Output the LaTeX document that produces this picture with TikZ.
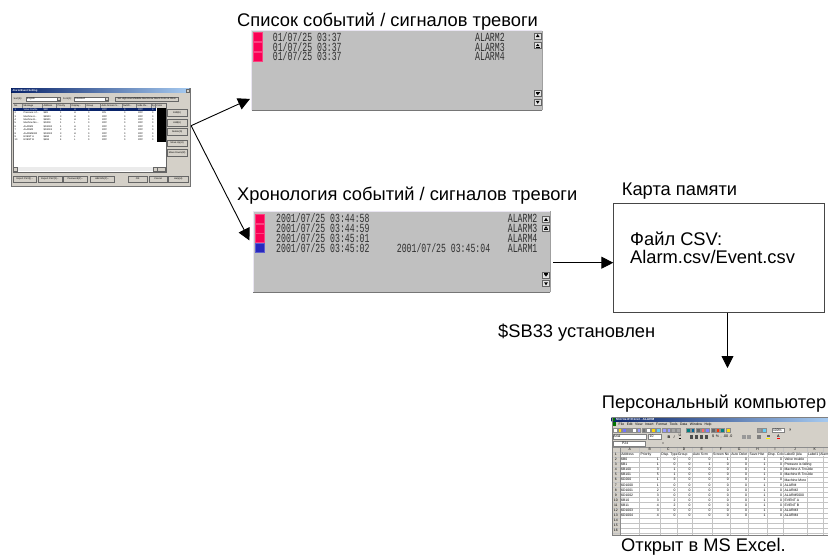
\documentclass[tikz,border=0pt]{standalone}
\usepackage{fontspec}
\setmainfont{Liberation Sans}
\newfontfamily\lcdfont[FakeStretch=0.66]{Liberation Mono}
\usetikzlibrary{arrows.meta,calc}
\definecolor{panelgray}{RGB}{192,192,192}
\definecolor{panellight}{RGB}{234,230,242}
\definecolor{paneldark}{RGB}{118,118,118}
\definecolor{lcdtext}{RGB}{48,48,48}
\definecolor{alarmred}{RGB}{250,0,85}
\definecolor{alarmblue}{RGB}{40,40,190}
\definecolor{btnface}{RGB}{228,228,228}
\definecolor{btnedge}{RGB}{100,100,100}
\definecolor{winface}{RGB}{212,208,200}
\definecolor{winnavy}{RGB}{10,36,106}
\definecolor{winlight}{RGB}{166,202,240}
\definecolor{gridgray}{RGB}{196,196,196}
\definecolor{boxedge}{RGB}{70,70,70}
\newcommand\mydots{.\kern0pt.\kern0pt.}

\newcommand\scrbtn[4]{%
  \node[sbtn] (#1) at (#2,#3) {};
  \ifcase#4\relax
    \fill ($(#1.center)+(0,-1.7)$) -- ($(#1.center)+(-1.9,1.3)$) -- ($(#1.center)+(1.9,1.3)$) -- cycle;
  \or
    \fill ($(#1.center)+(0,-1.6)$) -- ($(#1.center)+(-1.9,0.8)$) -- ($(#1.center)+(1.9,0.8)$) -- cycle;
    \draw[line width=0.5pt] ($(#1.center)+(-1.9,1.8)$) -- ($(#1.center)+(1.9,1.8)$);
  \or
    \draw[line width=0.5pt] ($(#1.center)+(-1.9,-1.8)$) -- ($(#1.center)+(1.9,-1.8)$);
    \fill ($(#1.center)+(0,1.6)$) -- ($(#1.center)+(-1.9,-0.8)$) -- ($(#1.center)+(1.9,-0.8)$) -- cycle;
  \or
    \fill ($(#1.center)+(0,1.7)$) -- ($(#1.center)+(-1.9,-1.3)$) -- ($(#1.center)+(1.9,-1.3)$) -- cycle;
  \fi}

\begin{document}
\begin{tikzpicture}[x=1pt,y=-1pt,
  ttl/.style={font=\fontsize{18.3}{21}\selectfont,anchor=base west,inner sep=0pt},
  lcd/.style={font=\lcdfont\fontsize{12.4}{12}\selectfont,text=lcdtext,anchor=base west,inner sep=0pt,text height=8.2pt,text depth=0.3pt},
  panel/.style={fill=panelgray,draw=none,anchor=north west,inner sep=0pt},
  conn/.style={line width=0.9pt,-{Triangle[length=12pt,width=12pt]}},
  sq/.style={minimum size=9pt,inner sep=0pt,anchor=north west,fill=#1,draw=#1!75!white,line width=0.3pt},
  sbtn/.style={draw=btnedge,fill=btnface,minimum width=7pt,minimum height=6pt,inner sep=0pt,anchor=north west,line width=0.4pt},
  dt/.style={font=\fontsize{2.4}{2.8}\selectfont,anchor=west,inner sep=0pt},
  dbtn/.style={draw=black!60,fill=winface,inner sep=0pt,anchor=north west,line width=0.3pt,font=\fontsize{2.4}{2.8}\selectfont},
  xt/.style={font=\fontsize{3.4}{3.8}\selectfont,anchor=west,inner sep=0pt},
  xr/.style={font=\fontsize{3.4}{3.8}\selectfont,anchor=east,inner sep=0pt},
  xc/.style={font=\fontsize{3.4}{3.8}\selectfont,anchor=center,inner sep=0pt}]
\useasboundingbox[fill=white] (0,0) rectangle (828,555);

%%%%%%%%%%%%%%%% DIALOG %%%%%%%%%%%%%%%%
\node[anchor=north west,minimum width=179pt,minimum height=98pt,inner sep=0pt,fill=winface,draw=black!55,line width=0.4pt] (dlg) at (11,88) {};
\fill[left color=winnavy,right color=winlight] (11.3,88.3) rectangle (189.7,92.7);
\node[dt,text=white,font=\bfseries\fontsize{2.6}{3}\selectfont] (dlgtitle) at (12.5,90.5) {Alarm/Event Setting};
\node[dbtn,minimum width=3pt,minimum height=3.2pt] (dlgclose) at (186.2,88.9) {};
% sort row
\node[dt] (dsort) at (13.5,98.7) {Sort(S):};
\node[anchor=north west,minimum width=34pt,minimum height=4pt,inner sep=0pt,fill=white,draw=black!60,line width=0.3pt] (dcombo1) at (26,96.7) {};
\node[dt] (dcombo1t) at (27,98.7) {English};
\node[dbtn,minimum width=3pt,minimum height=3.4pt] (dcombo1b) at (56.7,97) {};
\node[dt] (dfont) at (63,98.7) {Font(F):};
\node[anchor=north west,minimum width=34pt,minimum height=4pt,inner sep=0pt,fill=white,draw=black!60,line width=0.3pt] (dcombo2) at (74,96.7) {};
\node[dt] (dcombo2t) at (75,98.7) {Standard};
\node[dbtn,minimum width=3pt,minimum height=3.4pt] (dcombo2b) at (104.7,97) {};
\node[dbtn,minimum width=63pt,minimum height=4pt] (dlong) at (115,96.7) {Set High Alarm/Middle Alarm/Low Alarm Color at Once};
% list
\node[anchor=north west,minimum width=153.3pt,minimum height=68.4pt,inner sep=0pt,fill=white,draw=black!60,line width=0.4pt] (dlist) at (12.7,103.3) {};
\fill[winface] (13.2,103.8) rectangle (165.5,107.7);
\foreach \x in {22.5,42.5,56.5,70.5,85.5,100.5,122,136.5,151,155.5}
  \draw[black!50,line width=0.3pt] (\x,103.8) -- (\x,107.7);
\foreach \x/\t [count=\k] in {14/No.,23.3/Message,43.3/Address,57.3/Priority,71.3/{Display\mydots},86.3/Group,101.3/{Auto Screen S\mydots},122.8/{Switch\mydots},137.3/{Hide Ov\mydots},151.7/Sy,156.2/Color}
  \node[dt] (dh\k) at (\x,105.8) {\t};
\fill[winnavy] (13.3,108) rectangle (156.3,111.3);
\fill[black] (156.5,108) rectangle (165.5,141.7);
\foreach \i/\msg/\adr/\pri/\dsp/\aut in {1/Valve trouble/\$B0/1/H/OFF,2/{Pressure is f\mydots}/\$B1/1/H/ON,3/{Machine A\mydots}/\$B100/3/H/OFF,4/{Machine B\mydots}/\$B101/5/H/OFF,5/{Machine Mo\mydots}/\$D200/1/L/OFF,6/ALARM1/\$D1000/1/H/OFF,7/ALARM2/\$D1001/2/H/OFF,8/ALARM5000/\$D1002/3/H/OFF,9/EVENT A/\$B10/3/L/OFF,10/EVENT B/\$B11/4/L/OFF}{
  \ifnum\i=1 \def\rc{white}\else\def\rc{black}\fi
  \pgfmathsetmacro\yy{108+(\i-1)*3.37+1.65}
  \node[dt,text=\rc] (dn\i) at (14.5,\yy) {\i};
  \node[dt,text=\rc] (dm\i) at (23.5,\yy) {\msg};
  \node[dt,text=\rc] (da\i) at (43.5,\yy) {\adr};
  \node[dt,text=\rc] (dp\i) at (60,\yy) {\pri};
  \node[dt,text=\rc] (dd\i) at (74,\yy) {\dsp};
  \node[dt,text=\rc] (dg\i) at (88,\yy) {0};
  \node[dt,text=\rc] (ds\i) at (102,\yy) {\aut};
  \node[dt,text=\rc] (dw\i) at (124,\yy) {0};
  \node[dt,text=\rc] (do\i) at (138,\yy) {OFF};
  \node[dt,text=\rc] (dy\i) at (152,\yy) {0};
}
\fill[black!8] (13.2,167) rectangle (157,171.2);
\node[dbtn,minimum width=3.8pt,minimum height=4pt] (dscl) at (13.2,167.1) {};
\node[dbtn,minimum width=3.8pt,minimum height=4pt] (dscr) at (153,167.1) {};
\node[dbtn,minimum width=8pt,minimum height=4pt] (dscc) at (157.2,167.1) {};
% right buttons
\foreach \y/\t [count=\k] in {109.3/Edit(E),119.3/Add(A),128.3/Delete(D),140/Move Up(U),149.3/Move Down(W)}
  \node[dbtn,minimum width=19.4pt,minimum height=6.3pt] (drb\k) at (167.3,\y) {\t};
% bottom buttons
\foreach \x/\w/\t [count=\k] in {13.3/22.7/{Import CSV(I)\mydots},38.3/23.4/{Export CSV(X)\mydots},63.3/24/{Password(P)\mydots},90/24.3/{Add Info(F)\mydots},128.3/18.4/OK,149.3/17.4/Cancel,168.3/19.7/Help(H)}
  \node[dbtn,minimum width=\w pt,minimum height=5.5pt] (dbb\k) at (\x,176) {\t};

%%%%%%%%%%%%%%%% ALARM LIST PANEL %%%%%%%%%%%%%%%%
\node[ttl] (ttl1) at (237,26.7) {Список событий / сигналов тревоги};
\node[panel,minimum width=290.3pt,minimum height=79.3pt] (list) at (251.7,30.7) {};
\draw[panellight,line width=1pt] (list.south west) -- (list.north west) -- (list.north east);
\draw[paneldark,line width=1.6pt] (list.south west) -- (list.south east);
\draw[paneldark!70,line width=0.6pt] (list.south east) -- (list.north east);
\foreach \i/\lab in {0/ALARM2,1/ALARM3,2/ALARM4}{
  \node[sq=alarmred] (lsq\i) at (253.3,{32.3+9.7*\i}) {};
  \node[lcd] (ldt\i) at (272.7,{41.4+9.7*\i}) {01/07/25 03:37};
  \node[lcd] (llb\i) at (475,{41.4+9.7*\i}) {\lab};
}
\scrbtn{lb1}{534}{32.6}{0}
\scrbtn{lb2}{534}{42.2}{1}
\scrbtn{lb3}{534}{90.4}{2}
\scrbtn{lb4}{534}{98.9}{3}

%%%%%%%%%%%%%%%% HISTORY PANEL %%%%%%%%%%%%%%%%
\node[ttl] (ttl2) at (237,200) {Хронология событий / сигналов тревоги};
\node[panel,minimum width=297pt,minimum height=81pt] (hist) at (253,211) {};
\draw[panellight,line width=1pt] (hist.south west) -- (hist.north west) -- (hist.north east);
\draw[paneldark,line width=1.6pt] (hist.south west) -- (hist.south east);
\draw[paneldark!70,line width=0.6pt] (hist.south east) -- (hist.north east);
\node[sq=alarmred] (hsq0) at (255,213.7) {};
\node[sq=alarmred] (hsq1) at (255,223.55) {};
\node[sq=alarmred] (hsq2) at (255,233.4) {};
\node[sq=alarmblue] (hsq3) at (255,243.25) {};
\node[lcd] (hdt0) at (276,222.5) {2001/07/25 03:44:58};
\node[lcd] (hdt1) at (276,232.35) {2001/07/25 03:44:59};
\node[lcd] (hdt2) at (276,242.2) {2001/07/25 03:45:01};
\node[lcd] (hdt3) at (276,252.05) {2001/07/25 03:45:02};
\node[lcd] (hdr3) at (396.7,252.05) {2001/07/25 03:45:04};
\node[lcd] (hlb0) at (507.7,222.5) {ALARM2};
\node[lcd] (hlb1) at (507.7,232.35) {ALARM3};
\node[lcd] (hlb2) at (507.7,242.2) {ALARM4};
\node[lcd] (hlb3) at (507.7,252.05) {ALARM1};
\scrbtn{hb1}{542.3}{216.3}{0}
\scrbtn{hb2}{542.3}{224.6}{1}
\scrbtn{hb3}{542.3}{271.8}{2}
\scrbtn{hb4}{542.3}{280.4}{3}

%%%%%%%%%%%%%%%% MEMORY CARD %%%%%%%%%%%%%%%%
\node[ttl] (ttl3) at (621.7,195) {Карта памяти};
\node[draw=boxedge,line width=0.8pt,anchor=north west,minimum width=211pt,minimum height=109pt,inner sep=0pt] (card) at (613.3,202.7) {};
\node[ttl] (csv1) at (630,245) {Файл CSV:};
\node[ttl] (csv2) at (630,263.3) {Alarm.csv/Event.csv};
\node[ttl] (sb) at (498,337) {\$SB33 установлен};
\node[ttl] (pc) at (601.7,408) {Персональный компьютер};
\node[ttl] (xlcap) at (621,551.7) {Открыт в MS Excel.};

%%%%%%%%%%%%%%%% EXCEL %%%%%%%%%%%%%%%%
\node[anchor=north west,minimum width=216.3pt,minimum height=117.5pt,inner sep=0pt,fill=white] (xls) at (611.7,417) {};
\begin{scope}
\clip (611.7,417) rectangle (828,534.5);
\fill[left color=winnavy,right color=winlight] (611.7,417) rectangle (828,421.7);
\fill[green!45!black] (612.3,417.6) rectangle (614.9,421.1);
\node[xt,text=white,font=\bfseries\fontsize{3.2}{3.5}\selectfont] (xtitle) at (616,419.35) {Microsoft Excel - ALARM};
\fill[winface] (611.7,421.7) rectangle (828,446.7);
\fill[green!45!black] (612.5,422.4) rectangle (615.5,425.9);
\node[xt] (xmenu) at (618.5,424.2) {File\hspace{2.6pt}Edit\hspace{2.6pt}View\hspace{2.6pt}Insert\hspace{2.6pt}Format\hspace{2.6pt}Tools\hspace{2.6pt}Data\hspace{2.6pt}Window\hspace{2.6pt}Help};
% toolbar 1
\foreach \x/\c in {613/white,617.6/yellow!80!orange,622.2/blue!55,627.4/black!45,632/white,636.6/blue!40,641.8/black!55,646.4/white,651/yellow!75!orange,656.2/cyan!60,662/blue!40,666.6/blue!40,671.2/black!35,676.4/black!35,686/green!50!blue,690.6/blue!60!green,696/black!60,700.6/red!60,705.2/blue!50,711/black!60,715.6/red!60!orange,720.2/green!50!blue,726/yellow!80!orange,757/black!40,762/cyan!60}
  \fill[\c,draw=black!45,line width=0.2pt] (\x,427.8) rectangle +(3.6,4.2);
\node[anchor=north west,minimum width=12pt,minimum height=4.6pt,inner sep=0pt,fill=white,draw=black!50,line width=0.2pt] (xzoom) at (772,427.6) {};
\node[xt] (xzoomt) at (772.8,429.9) {100\%};
\node[xt] (xhelp) at (789,429.9) {\textbf{?}};
% toolbar 2
\node[anchor=north west,minimum width=33pt,minimum height=4.8pt,inner sep=0pt,fill=white,draw=black!50,line width=0.2pt] (xfont) at (612.5,434.3) {};
\node[xt] (xfontt) at (613.4,436.7) {Arial};
\node[anchor=north west,minimum width=13pt,minimum height=4.8pt,inner sep=0pt,fill=white,draw=black!50,line width=0.2pt] (xsize) at (648,434.3) {};
\node[xt] (xsizet) at (649.5,436.7) {10};
\node[xt,font=\bfseries\fontsize{3.8}{4}\selectfont] (xbold) at (667.5,436.7) {B};
\node[xt,font=\itshape\fontsize{3.8}{4}\selectfont] (xital) at (673.5,436.7) {I};
\node[xt,font=\fontsize{3.8}{4}\selectfont] (xund) at (678.5,436.7) {\underline{U}};
\foreach \x in {690,695,700,705}
  \foreach \d in {0,1.2,2.4,3.6}
    \draw[black!70,line width=0.3pt] (\x,{434.8+\d}) -- ++(3.4,0);
\node[xt,font=\fontsize{3.6}{4}\selectfont] (xfmt) at (712,436.7) {\$\hspace{1.6pt}\%\hspace{1.6pt},\hspace{1.6pt}.00\hspace{1.2pt}.0};
\fill[black!40] (742,434.8) rectangle +(3.6,3.8);
\fill[black!40] (747,434.8) rectangle +(3.6,3.8);
\fill[black!50] (757,434.8) rectangle +(3.6,3.8);
\fill[yellow] (766,437.6) rectangle +(4,1.2);
\fill[black!60] (766.5,434.8) rectangle +(3,2.4);
\node[xt,font=\bfseries\fontsize{3.6}{4}\selectfont] (xfc) at (777,436.2) {A};
\fill[red] (776.6,437.9) rectangle +(3.4,1);
% formula bar
\node[anchor=north west,minimum width=32pt,minimum height=4.8pt,inner sep=0pt,fill=white,draw=black!50,line width=0.2pt] (xname) at (612.5,440.9) {};
\node[xt] (xnamet) at (622,443.3) {P24};
\node[xt] (xeq) at (662,443.3) {=};
% headers
\fill[winface] (611.7,446.7) rectangle (828,451.8);
\fill[winface] (611.7,446.7) rectangle (620,534.5);
\foreach \y in {451.8,456.88,...,534}
  \draw[gridgray,line width=0.3pt] (611.7,\y) -- (828,\y);
\foreach \x in {620,639.3,660,676.7,691.7,711.7,730,748.3,766.7,783.3,806.7,822.7}
  \draw[gridgray,line width=0.3pt] (\x,446.7) -- (\x,534.5);
\draw[black!45,line width=0.3pt] (611.7,446.7) -- (828,446.7);
\draw[black!45,line width=0.3pt] (620,446.7) -- (620,534.5);
\foreach \x/\l in {629.65/A,649.65/B,668.35/C,684.2/D,701.7/E,720.85/F,739.15/G,757.5/H,775/I,795/J,814.7/K}
  \node[xc] (xcol\l) at (\x,449.25) {\l};
\foreach \r in {1,...,16}
  \node[xc] (xrow\r) at (615.85,{451.8+(\r-1)*5.08+2.6}) {\r};
\foreach \x/\t [count=\k] in {621/Address,640.3/Priority,661/Disp. Type,677.7/Group,692.7/Auto Scrn,712.7/Screen No,731/Auto Delet,749.3/Save Hist,767.7/Disp. Colo,784.3/Label0 (Ala,807.7/Label1 (Alarm}
  \node[xt,fill=white,inner sep=0.15pt] (xh\k) at (\x,454.4) {\t};
\foreach \r/\ca/\cb/\cc/\cd/\ce/\cf/\cg/\ch/\ci/\cj in {2/\$B0/1/0/0/0/1/0/1/0/Valve trouble,3/\$B1/1/0/0/1/0/0/1/0/Pressure is falling,4/\$B100/3/1/0/0/0/0/1/0/Machine A Trouble,5/\$B101/5/1/0/0/0/0/1/0/Machine B Trouble,6/\$D200/1/3/0/0/0/0/1/0/Machine More,7/\$D1000/1/0/0/0/0/0/1/0/ALARM,8/\$D1001/2/0/0/0/0/0/1/0/ALARM2,9/\$D1002/3/0/0/0/0/0/1/0/ALARM5000,10/\$B10/3/2/0/0/0/0/1/0/EVENT A,11/\$B11/4/2/0/0/0/0/1/0/EVENT B,12/\$D1003/3/0/0/0/0/0/1/0/ALARM3,13/\$D1004/4/0/0/0/0/0/1/0/ALARM4}{
  \pgfmathsetmacro\yy{451.8+(\r-1)*5.08+2.6}
  \node[xt] (xa\r) at (621,\yy) {\ca};
  \node[xr] (xb\r) at (659,\yy) {\cb};
  \node[xr] (xc\r) at (675.7,\yy) {\cc};
  \node[xr] (xd\r) at (690.7,\yy) {\cd};
  \node[xr] (xe\r) at (710.7,\yy) {\ce};
  \node[xr] (xf\r) at (729,\yy) {\cf};
  \node[xr] (xg\r) at (747.3,\yy) {\cg};
  \node[xr] (xhh\r) at (765.7,\yy) {\ch};
  \node[xr] (xi\r) at (782.3,\yy) {\ci};
  \node[xt,fill=white,inner sep=0.15pt] (xj\r) at (784.3,\yy) {\cj};
}
\end{scope}
\draw[black!50,line width=0.4pt] (xls.north west) rectangle (xls.south east);

%%%%%%%%%%%%%%%% CONNECTORS %%%%%%%%%%%%%%%%
\coordinate (src) at ($(dlg.north east)+(0.7,37.7)$);
\coordinate (tip1) at ($(list.south west)+(-1.7,-11.5)$);
\coordinate (tip2) at ($(hist.north west)+(-3.5,29.5)$);
\draw[conn] (src) -- (tip1);
\draw[conn] (src) -- (tip2);
\coordinate (a3s) at ($(hist.north east)+(3,51.7)$);
\draw[conn] (a3s) -- (a3s -| card.west);
\coordinate (a4e) at (727.5,368);
\draw[conn] (a4e |- card.south) -- (a4e);
\end{tikzpicture}
\end{document}
